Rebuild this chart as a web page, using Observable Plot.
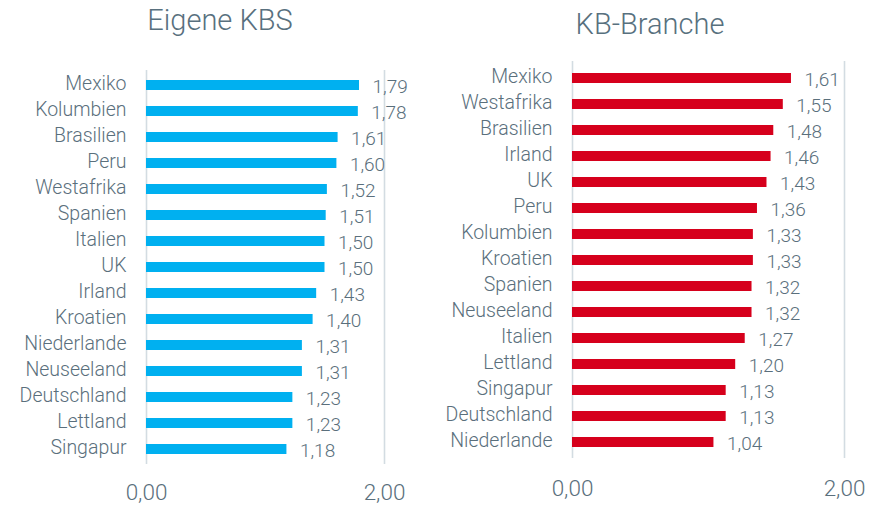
<!DOCTYPE html>
<html>
<head>
<meta charset="utf-8">
<script src="https://cdn.jsdelivr.net/npm/d3@7"></script>
<script src="https://cdn.jsdelivr.net/npm/@observablehq/plot@0.6"></script>
<style>
  html, body { margin: 0; padding: 0; background: #fff; }
  #wrap { position: relative; width: 875px; height: 506px; overflow: hidden; font-family: Roboto, "Open Sans", sans-serif; }
  .panel { position: absolute; top: 0; }
  .title { position: absolute; top: 0; font-size: 29px; font-weight: 300; color: #58707e; white-space: nowrap; transform: translateX(-50%); line-height: 40px; }
</style>
</head>
<body>
<div id="wrap"></div>
<script>
const leftTitle = "Eigene KBS";
const leftCountries = ["Mexiko","Kolumbien","Brasilien","Peru","Westafrika","Spanien","Italien","UK","Irland","Kroatien","Niederlande","Neuseeland","Deutschland","Lettland","Singapur"];
const leftValues = [1.79,1.78,1.61,1.60,1.52,1.51,1.50,1.50,1.43,1.40,1.31,1.31,1.23,1.23,1.18];

const rightTitle = "KB-Branche";
const rightCountries = ["Mexiko","Westafrika","Brasilien","Irland","UK","Peru","Kolumbien","Kroatien","Spanien","Neuseeland","Italien","Lettland","Singapur","Deutschland","Niederlande"];
const rightValues = [1.61,1.55,1.48,1.46,1.43,1.36,1.33,1.33,1.32,1.32,1.27,1.20,1.13,1.13,1.04];

const xTicks = [0, 2];
const fmt = d => d3.format(".2f")(d).replace(".", ",");

const textColor = "#5a6f7c";
const gridColor = "#d3dce2";

function panel(countries, values, color, m) {
  const data = countries.map((c, i) => ({country: c, value: values[i]}));
  return Plot.plot({
    width: m.width,
    height: 506,
    marginLeft: m.left,
    marginRight: m.right,
    marginTop: m.top,
    marginBottom: m.bottom,
    style: {fontFamily: "Roboto, 'Open Sans', sans-serif", fontWeight: 300, color: textColor, background: "transparent", overflow: "visible"},
    x: {domain: [0, 2]},
    y: {domain: countries, paddingInner: 0.62, paddingOuter: 0.31, align: 0.5},
    marks: [
      Plot.ruleX(xTicks, {stroke: gridColor, strokeWidth: 1.6}),
      Plot.barX(data, {x: "value", y: "country", fill: color}),
      Plot.text(data, {x: "value", y: "country", text: d => fmt(d.value), textAnchor: "start", dx: 13, dy: 1.5, fontSize: 19, fill: textColor}),
      Plot.axisY({tickSize: 0, tickPadding: 20, fontSize: 19.5, label: null, dy: -1.5}),
      Plot.axisX({ticks: xTicks, tickFormat: fmt, tickSize: 0, tickPadding: m.tickPad, fontSize: 22.5, label: null})
    ]
  });
}

const wrap = document.getElementById("wrap");

const left = panel(leftCountries, leftValues, "#00b0f0", {width: 437, left: 146, right: 53, top: 70, bottom: 42, tickPad: 20});
left.classList.add("panel"); left.style.left = "0px";
wrap.appendChild(left);

const right = panel(rightCountries, rightValues, "#d6001c", {width: 438, left: 135, right: 31, top: 61, bottom: 48, tickPad: 22});
right.classList.add("panel"); right.style.left = "437px";
wrap.appendChild(right);

const t1 = document.createElement("div"); t1.className = "title"; t1.textContent = leftTitle; t1.style.left = "220px"; wrap.appendChild(t1);
const t2 = document.createElement("div"); t2.className = "title"; t2.textContent = rightTitle; t2.style.left = "650px"; t2.style.top = "4px"; wrap.appendChild(t2);
</script>
</body>
</html>
